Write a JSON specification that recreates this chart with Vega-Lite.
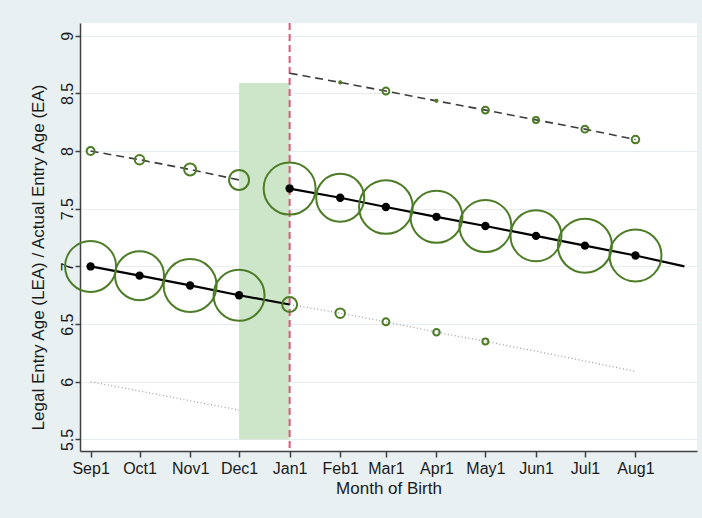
{
  "$schema": "https://vega.github.io/schema/vega-lite/v6.json",
  "width": 617,
  "height": 428,
  "autosize": {"type": "none"},
  "padding": {"left": 80, "top": 23, "right": 5, "bottom": 67},
  "background": "#e8f0f2",
  "config": {
    "view": {"fill": "white", "stroke": null},
    "font": "Liberation Sans"
  },
  "datasets": {
    "band": [{"date": "2010-12-01", "date2": "2011-01-01", "age": 5.5, "age2": 8.59}],
    "cutoff": [{"date": "2011-01-01"}],
    "lines": [
      {"date": "2010-09-01", "age": 7.0, "curve": "LEA pre", "style": "solid"},
      {"date": "2010-10-01", "age": 6.92, "curve": "LEA pre", "style": "solid"},
      {"date": "2010-11-01", "age": 6.835, "curve": "LEA pre", "style": "solid"},
      {"date": "2010-12-01", "age": 6.75, "curve": "LEA pre", "style": "solid"},
      {"date": "2011-01-01", "age": 6.67, "curve": "LEA pre", "style": "solid"},
      {"date": "2011-01-01", "age": 7.675, "curve": "LEA post", "style": "solid"},
      {"date": "2011-02-01", "age": 7.595, "curve": "LEA post", "style": "solid"},
      {"date": "2011-03-01", "age": 7.515, "curve": "LEA post", "style": "solid"},
      {"date": "2011-04-01", "age": 7.43, "curve": "LEA post", "style": "solid"},
      {"date": "2011-05-01", "age": 7.35, "curve": "LEA post", "style": "solid"},
      {"date": "2011-06-01", "age": 7.265, "curve": "LEA post", "style": "solid"},
      {"date": "2011-07-01", "age": 7.18, "curve": "LEA post", "style": "solid"},
      {"date": "2011-08-01", "age": 7.095, "curve": "LEA post", "style": "solid"},
      {"date": "2011-08-31", "age": 7.0, "curve": "LEA post", "style": "solid"},
      {"date": "2010-09-01", "age": 8.0, "curve": "LEA+1 pre", "style": "dashed"},
      {"date": "2010-10-01", "age": 7.925, "curve": "LEA+1 pre", "style": "dashed"},
      {"date": "2010-11-01", "age": 7.84, "curve": "LEA+1 pre", "style": "dashed"},
      {"date": "2010-12-01", "age": 7.75, "curve": "LEA+1 pre", "style": "dashed"},
      {"date": "2011-01-01", "age": 8.675, "curve": "LEA+1 post", "style": "dashed"},
      {"date": "2011-02-01", "age": 8.595, "curve": "LEA+1 post", "style": "dashed"},
      {"date": "2011-03-01", "age": 8.52, "curve": "LEA+1 post", "style": "dashed"},
      {"date": "2011-04-01", "age": 8.435, "curve": "LEA+1 post", "style": "dashed"},
      {"date": "2011-05-01", "age": 8.355, "curve": "LEA+1 post", "style": "dashed"},
      {"date": "2011-06-01", "age": 8.27, "curve": "LEA+1 post", "style": "dashed"},
      {"date": "2011-07-01", "age": 8.19, "curve": "LEA+1 post", "style": "dashed"},
      {"date": "2011-08-01", "age": 8.1, "curve": "LEA+1 post", "style": "dashed"},
      {"date": "2010-09-01", "age": 6.0, "curve": "LEA-1 pre", "style": "dotted"},
      {"date": "2010-10-01", "age": 5.92, "curve": "LEA-1 pre", "style": "dotted"},
      {"date": "2010-11-01", "age": 5.835, "curve": "LEA-1 pre", "style": "dotted"},
      {"date": "2010-12-01", "age": 5.755, "curve": "LEA-1 pre", "style": "dotted"},
      {"date": "2011-01-01", "age": 6.67, "curve": "LEA-1 post", "style": "dotted"},
      {"date": "2011-02-01", "age": 6.595, "curve": "LEA-1 post", "style": "dotted"},
      {"date": "2011-03-01", "age": 6.52, "curve": "LEA-1 post", "style": "dotted"},
      {"date": "2011-04-01", "age": 6.43, "curve": "LEA-1 post", "style": "dotted"},
      {"date": "2011-05-01", "age": 6.35, "curve": "LEA-1 post", "style": "dotted"},
      {"date": "2011-06-01", "age": 6.265, "curve": "LEA-1 post", "style": "dotted"},
      {"date": "2011-07-01", "age": 6.18, "curve": "LEA-1 post", "style": "dotted"},
      {"date": "2011-08-01", "age": 6.09, "curve": "LEA-1 post", "style": "dotted"}
    ],
    "markers": [
      {"date": "2010-09-01", "age": 7.0, "series": "LEA", "share": 86.7},
      {"date": "2010-10-01", "age": 6.92, "series": "LEA", "share": 80.0},
      {"date": "2010-11-01", "age": 6.835, "series": "LEA", "share": 93.6},
      {"date": "2010-12-01", "age": 6.75, "series": "LEA", "share": 86.7},
      {"date": "2010-09-01", "age": 8.0, "series": "LEA+1", "share": 2.1},
      {"date": "2010-10-01", "age": 7.925, "series": "LEA+1", "share": 3.0},
      {"date": "2010-11-01", "age": 7.84, "series": "LEA+1", "share": 4.8},
      {"date": "2010-12-01", "age": 7.75, "series": "LEA+1", "share": 13.3},
      {"date": "2011-01-01", "age": 7.675, "series": "LEA", "share": 90.1},
      {"date": "2011-02-01", "age": 7.595, "series": "LEA", "share": 76.8},
      {"date": "2011-03-01", "age": 7.515, "series": "LEA", "share": 96.1},
      {"date": "2011-04-01", "age": 7.43, "series": "LEA", "share": 90.1},
      {"date": "2011-05-01", "age": 7.35, "series": "LEA", "share": 90.1},
      {"date": "2011-06-01", "age": 7.265, "series": "LEA", "share": 86.7},
      {"date": "2011-07-01", "age": 7.18, "series": "LEA", "share": 97.2},
      {"date": "2011-08-01", "age": 7.095, "series": "LEA", "share": 90.1},
      {"date": "2011-01-01", "age": 6.67, "series": "LEA-1", "share": 7.5},
      {"date": "2011-02-01", "age": 6.595, "series": "LEA-1", "share": 3.0},
      {"date": "2011-03-01", "age": 6.52, "series": "LEA-1", "share": 1.6},
      {"date": "2011-04-01", "age": 6.43, "series": "LEA-1", "share": 1.4},
      {"date": "2011-05-01", "age": 6.35, "series": "LEA-1", "share": 1.2},
      {"date": "2011-02-01", "age": 8.595, "series": "LEA+1", "share": 0.15},
      {"date": "2011-03-01", "age": 8.52, "series": "LEA+1", "share": 1.6},
      {"date": "2011-04-01", "age": 8.435, "series": "LEA+1", "share": 0.15},
      {"date": "2011-05-01", "age": 8.355, "series": "LEA+1", "share": 1.6},
      {"date": "2011-06-01", "age": 8.27, "series": "LEA+1", "share": 1.2},
      {"date": "2011-07-01", "age": 8.19, "series": "LEA+1", "share": 1.6},
      {"date": "2011-08-01", "age": 8.1, "series": "LEA+1", "share": 1.9}
    ]
  },
  "layer": [
    {
      "data": {"name": "band"},
      "mark": {"type": "rect", "color": "#cde6c9"},
      "encoding": {
        "x": {
          "field": "date", "type": "temporal",
          "scale": {"type": "utc", "nice": false, "domain": [
            {"year": 2010, "month": 8, "date": 25, "hours": 12, "utc": true},
            {"year": 2011, "month": 9, "date": 7, "hours": 17, "utc": true}
          ]},
          "axis": {
            "title": "Month of Birth",
            "values": [
              {"year": 2010, "month": 9, "date": 1, "utc": true},
              {"year": 2010, "month": 10, "date": 1, "utc": true},
              {"year": 2010, "month": 11, "date": 1, "utc": true},
              {"year": 2010, "month": 12, "date": 1, "utc": true},
              {"year": 2011, "month": 1, "date": 1, "utc": true},
              {"year": 2011, "month": 2, "date": 1, "utc": true},
              {"year": 2011, "month": 3, "date": 1, "utc": true},
              {"year": 2011, "month": 4, "date": 1, "utc": true},
              {"year": 2011, "month": 5, "date": 1, "utc": true},
              {"year": 2011, "month": 6, "date": 1, "utc": true},
              {"year": 2011, "month": 7, "date": 1, "utc": true},
              {"year": 2011, "month": 8, "date": 1, "utc": true}
            ],
            "labelExpr": "utcFormat(datum.value, '%b') + '1'",
            "grid": false,
            "tickSize": 6,
            "tickColor": "#404040",
            "tickWidth": 1.5,
            "domainColor": "#404040",
            "domainWidth": 1.5,
            "labelFontSize": 16,
            "labelColor": "#1a1a1a",
            "labelPadding": 3,
            "labelOverlap": false,
            "labelFlush": false,
            "titleFontSize": 17,
            "titleFontWeight": "normal",
            "titleColor": "#1a1a1a",
            "titleBaseline": "top",
            "titleY": 29
          }
        },
        "x2": {"field": "date2"},
        "y": {
          "field": "age", "type": "quantitative",
          "scale": {"domain": [5.4, 9.11], "nice": false, "zero": false},
          "axis": {
            "title": "Legal Entry Age (LEA) / Actual Entry Age (EA)",
            "values": [5.5, 6, 6.5, 7, 7.5, 8, 8.5, 9],
            "format": ".1~f",
            "grid": true,
            "gridColor": "#e4eef1",
            "gridWidth": 1.2,
            "tickSize": 5,
            "tickColor": "#404040",
            "tickWidth": 1.5,
            "domainColor": "#404040",
            "domainWidth": 1.5,
            "labelAngle": -90,
            "labelAlign": "center",
            "labelBaseline": "alphabetic",
            "labelPadding": 3,
            "labelFontSize": 16,
            "labelColor": "#1a1a1a",
            "titleFontSize": 17,
            "titleFontWeight": "normal",
            "titleColor": "#1a1a1a",
            "titleAngle": -90,
            "titleAlign": "center",
            "titleBaseline": "middle",
            "titleX": -42,
            "titleY": 234
          }
        },
        "y2": {"field": "age2"}
      }
    },
    {
      "data": {"name": "cutoff"},
      "mark": {"type": "rule", "color": "#e0577b", "strokeWidth": 2, "strokeDash": [7, 4]},
      "encoding": {
        "x": {"field": "date", "type": "temporal"}
      }
    },
    {
      "data": {"name": "lines"},
      "transform": [{"filter": "datum.style === 'dotted'"}],
      "mark": {"type": "line", "color": "#a0a0a0", "strokeWidth": 1.3, "strokeDash": [1, 2.5]},
      "encoding": {
        "x": {"field": "date", "type": "temporal"},
        "y": {"field": "age", "type": "quantitative"},
        "detail": {"field": "curve"}
      }
    },
    {
      "data": {"name": "lines"},
      "transform": [{"filter": "datum.style === 'dashed'"}],
      "mark": {"type": "line", "color": "#3c3c3c", "strokeWidth": 1.6, "strokeDash": [8, 5]},
      "encoding": {
        "x": {"field": "date", "type": "temporal"},
        "y": {"field": "age", "type": "quantitative"},
        "detail": {"field": "curve"}
      }
    },
    {
      "data": {"name": "lines"},
      "transform": [{"filter": "datum.style === 'solid'"}],
      "mark": {"type": "line", "color": "#000000", "strokeWidth": 2.2},
      "encoding": {
        "x": {"field": "date", "type": "temporal"},
        "y": {"field": "age", "type": "quantitative"},
        "detail": {"field": "curve"}
      }
    },
    {
      "data": {"name": "markers"},
      "mark": {"type": "point", "shape": "circle", "filled": false, "color": "#4d7c27", "strokeWidth": 2, "opacity": 1},
      "encoding": {
        "x": {"field": "date", "type": "temporal"},
        "y": {"field": "age", "type": "quantitative"},
        "size": {"field": "share", "type": "quantitative", "scale": {"type": "linear", "domain": [0, 100], "range": [0, 3000]}, "legend": null}
      }
    },
    {
      "data": {"name": "markers"},
      "transform": [{"filter": "datum.series === 'LEA'"}],
      "mark": {"type": "point", "shape": "circle", "filled": true, "color": "#000000", "size": 70, "opacity": 1},
      "encoding": {
        "x": {"field": "date", "type": "temporal"},
        "y": {"field": "age", "type": "quantitative"}
      }
    }
  ]
}
